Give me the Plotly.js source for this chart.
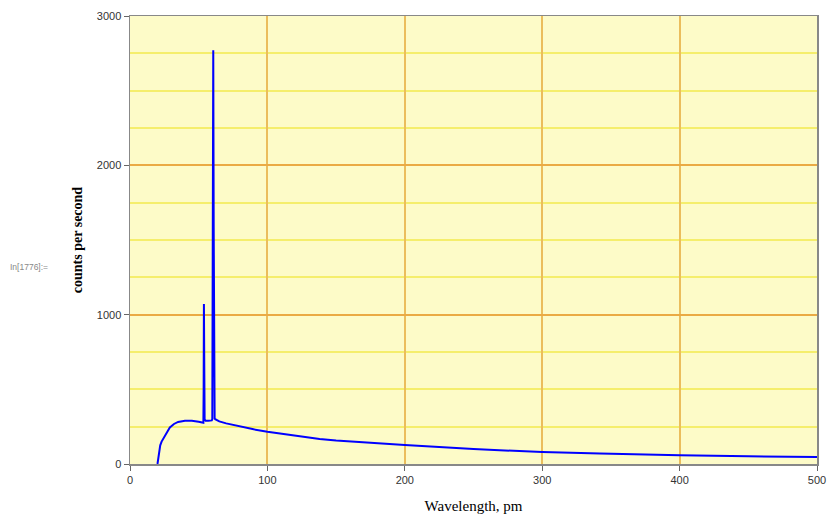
<!DOCTYPE html>
<html>
<head>
<meta charset="utf-8">
<script src="https://cdn.plot.ly/plotly-3.0.1.min.js"></script>
<style>html,body{margin:0;padding:0;background:#fff;}#chart{width:827px;height:521px;}</style>
</head>
<body>
<div id="chart"></div>
<script>
// Wavelength (pm)
const wavelength = [
  20, 20.6, 21.3, 22, 23, 25, 27, 29, 32, 35, 40, 45, 50, 53,
  53.4, 53.6, 53.8, 53.95, 54.1, 54.3, 54.6, 55, 57, 59.5,
  59.9, 60.2, 60.6, 60.9, 61.2, 61.6, 62,
  65, 70, 80, 90, 100, 120, 138, 150, 175, 200, 250, 300, 342, 350, 400, 450, 500
];
// Counts per second
const counts = [
  0, 50, 95, 125, 150, 185, 215, 245, 268, 282, 290, 290, 283, 278,
  276, 496, 1071, 852, 600, 300, 290, 290, 290, 292,
  300, 1647, 2770, 1600, 330, 305, 300,
  285, 272, 250, 232, 216, 190, 167, 157, 140, 127, 100, 80, 71, 69, 58, 52, 47
];
const xTicks = [0, 100, 200, 300, 400, 500];
const yTicks = [0, 1000, 2000, 3000];

const trace = {
  x: wavelength, y: counts, type: 'scatter', mode: 'lines',
  line: {color: '#0000ff', width: 2}, hoverinfo: 'none'
};

const layout = {
  width: 827, height: 521,
  margin: {l: 130, r: 10, t: 16, b: 57},
  paper_bgcolor: '#ffffff',
  plot_bgcolor: '#fdfbc8',
  showlegend: false,
  font: {family: 'Liberation Sans, Arial, sans-serif', size: 11, color: '#333333'},
  xaxis: {
    range: [0, 500], tickvals: xTicks, ticktext: xTicks.map(String),
    showgrid: true, gridcolor: '#ebbd5c', gridwidth: 2,
    showline: true, linecolor: '#888888', linewidth: 1.5, mirror: true,
    ticks: 'outside', ticklen: 5, tickcolor: '#666666',
    zeroline: false, fixedrange: true,
    title: {text: 'Wavelength, pm', font: {family: 'Liberation Serif, Times New Roman, serif', size: 15, color: '#000'}, standoff: 16}
  },
  yaxis: {
    range: [0, 3000], tickvals: yTicks, ticktext: yTicks.map(String),
    showgrid: true, gridcolor: '#eaaa44', gridwidth: 2,
    minor: {dtick: 250, showgrid: true, gridcolor: '#f5ee6c', gridwidth: 2, ticks: ''},
    showline: true, linecolor: '#888888', linewidth: 1.5, mirror: true,
    ticks: 'outside', ticklen: 5, tickcolor: '#666666',
    zeroline: false, fixedrange: true,
    title: {text: 'counts per second', font: {family: 'Liberation Serif, Times New Roman, serif', size: 14, color: '#000', weight: 'bold'}, standoff: 11}
  },
  annotations: [{
    text: 'In[1776]:=', xref: 'paper', yref: 'paper',
    x: (8 - 130) / 687, y: (464 - 267) / 448, xanchor: 'left', yanchor: 'middle',
    showarrow: false, font: {family: 'Liberation Sans, Arial, sans-serif', size: 8.5, color: '#888888'}
  }]
};

Plotly.newPlot('chart', [trace], layout, {staticPlot: true, displayModeBar: false});
</script>
</body>
</html>
